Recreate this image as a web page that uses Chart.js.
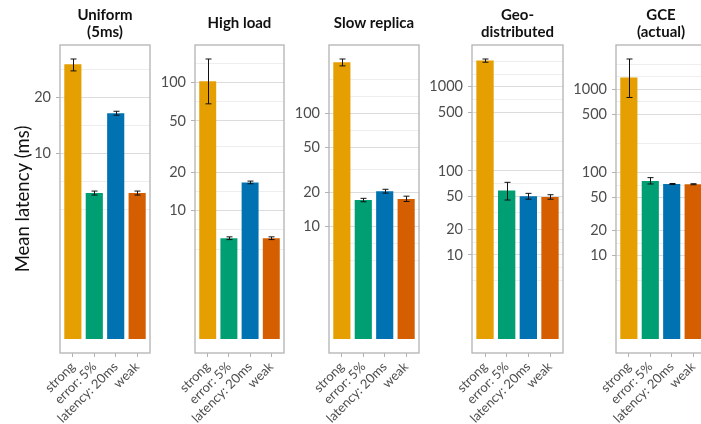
<!DOCTYPE html>
<html>
<head>
<meta charset="utf-8">
<script src="https://cdn.jsdelivr.net/npm/chart.js@4.4.1/dist/chart.umd.min.js"></script>
<style>
  html, body { margin: 0; padding: 0; background: #fff; overflow: hidden; }
  #wrap { position: relative; width: 701px; height: 424px; overflow: hidden; }
  #wrap canvas { position: absolute; top: 0; }
</style>
</head>
<body>
<div id="wrap"></div>
<script>
// data (mean latency in ms, with error bar ends)
const categories = ['strong', 'error: 5%', 'latency: 20ms', 'weak'];
const barColors = ['#E69F00', '#009E73', '#0072B2', '#D55E00'];
const yBreaks = [10, 20, 50, 100, 500, 1000];
const barBase = 1;

const uniformMean = [30.1, 6.1, 16.4, 6.1];
const uniformLow  = [27.7, 5.95, 16.0, 5.95];
const uniformHigh = [32.1, 6.25, 16.8, 6.25];

const highLoadMean = [102, 6.1, 16.6, 6.1];
const highLoadLow  = [68, 5.95, 16.2, 5.95];
const highLoadHigh = [152, 6.25, 17.0, 6.25];

const slowReplicaMean = [285, 17.1, 20.5, 17.5];
const slowReplicaLow  = [265, 16.5, 19.7, 16.6];
const slowReplicaHigh = [305, 17.7, 21.3, 18.5];

const geoMean = [2050, 58.5, 50, 49];
const geoLow  = [1960, 45, 46, 46];
const geoHigh = [2140, 73, 54, 52];

const gceMean = [1390, 79.5, 73, 72.5];
const gceLow  = [800, 73, 72, 71.5];
const gceHigh = [2320, 87, 74, 73.5];

const panels = [
    { title: ['Uniform', '(5ms)'], mean: uniformMean, low: uniformLow, high: uniformHigh },
    { title: ['High load'], mean: highLoadMean, low: highLoadLow, high: highLoadHigh },
    { title: ['Slow replica'], mean: slowReplicaMean, low: slowReplicaLow, high: slowReplicaHigh },
    { title: ['Geo-', 'distributed'], mean: geoMean, low: geoLow, high: geoHigh },
    { title: ['GCE', '(actual)'], mean: gceMean, low: gceLow, high: gceHigh }
];

// panel boxes in page pixels (left/right of the plotting area, y-axis room on the left)
const panelBoxes = [
    { x0: 60,  x1: 150, axisW: 60 },
    { x0: 195, x1: 284, axisW: 42 },
    { x0: 329, x1: 419, axisW: 42 },
    { x0: 472, x1: 563, axisW: 50 },
    { x0: 616, x1: 706, axisW: 50 }
];
const PAGE_H = 424, AREA_BOTTOM = 353;

const wrap = document.getElementById('wrap');

// ggplot-like minor breaks: midpoints (in log space) between majors, extended one step either side
function buildTicks(lo, hi) {
    const majorVals = yBreaks.filter(v => Math.log10(v) >= lo && Math.log10(v) <= hi);
    const majors = majorVals.map(v => Math.log10(v));
    const b = majors.slice();
    const bd = b[1] - b[0];
    if (lo < b[0]) b.unshift(b[0] - bd);
    if (hi > b[b.length - 1]) b.push(b[b.length - 1] + bd);
    const minors = [];
    for (let i = 0; i < b.length - 1; i++) minors.push(b[i], (b[i] + b[i + 1]) / 2);
    minors.push(b[b.length - 1]);
    const ticks = majorVals.map(v => ({ value: v, minor: false }));
    minors.forEach(v => {
        if (v < lo || v > hi) return;
        if (majors.some(m => Math.abs(m - v) < 1e-9)) return;
        ticks.push({ value: Math.pow(10, v), minor: true });
    });
    return ticks.sort((a, c) => a.value - c.value);
}

function errorBarPlugin(low, high) {
    return {
        id: 'errorBars',
        afterDatasetsDraw(chart) {
            const { ctx } = chart;
            const y = chart.scales.y;
            const meta = chart.getDatasetMeta(0);
            ctx.save();
            ctx.strokeStyle = '#111';
            ctx.lineWidth = 1;
            meta.data.forEach((bar, i) => {
                const t = y.getPixelForValue(high[i]);
                const b = y.getPixelForValue(low[i]);
                const x = Math.round(bar.x) + 0.5;
                ctx.beginPath();
                ctx.moveTo(x, t); ctx.lineTo(x, b);
                ctx.moveTo(x - 3, t); ctx.lineTo(x + 3, t);
                ctx.moveTo(x - 3, b); ctx.lineTo(x + 3, b);
                ctx.stroke();
            });
            ctx.restore();
        }
    };
}

const panelBorder = {
    id: 'panelBorder',
    afterDraw(chart) {
        const { ctx, chartArea: a } = chart;
        ctx.save();
        ctx.strokeStyle = '#b3b3b3';
        ctx.lineWidth = 1.3;
        ctx.strokeRect(a.left, a.top, a.right - a.left, a.bottom - a.top);
        ctx.restore();
    }
};

panels.forEach((p, idx) => {
    const box = panelBoxes[idx];
    const left = box.x0 - box.axisW;
    const width = box.x1 - left + 4;
    const canvas = document.createElement('canvas');
    canvas.width = width;
    canvas.height = PAGE_H;
    canvas.style.left = left + 'px';
    wrap.appendChild(canvas);

    // 5% expansion either side of [log10(1), log10(max error bar)]
    const L = Math.log10(Math.max(...p.high));
    const lo = -0.05 * L, hi = 1.05 * L;
    const ticks = buildTicks(lo, hi);
    const twoLines = p.title.length > 1;

    new Chart(canvas, {
        type: 'bar',
        data: {
            datasets: [{
                data: p.mean.map((v, i) => ({ x: i, y: [barBase, v] })),
                backgroundColor: barColors,
                borderWidth: 0,
                categoryPercentage: 1,
                barPercentage: 0.8
            }]
        },
        options: {
            responsive: false,
            animation: false,
            devicePixelRatio: 1,
            layout: { padding: { left: 0, right: 4, top: 0, bottom: 0 } },
            plugins: {
                legend: { display: false },
                tooltip: { enabled: false },
                title: {
                    display: true,
                    fullSize: false,
                    text: p.title,
                    color: '#111',
                    font: { family: 'Lato', size: 15, weight: 'bold', lineHeight: 1.15 },
                    padding: twoLines ? { top: 6.5, bottom: 4 } : { top: 14.7, bottom: 13.05 }
                }
            },
            scales: {
                x: {
                    type: 'linear',
                    offset: false,
                    min: -0.6,
                    max: 3.6,
                    afterBuildTicks: s => { s.ticks = categories.map((c, i) => ({ value: i })); },
                    afterFit: s => { s.height = PAGE_H - AREA_BOTTOM; },
                    border: { display: false },
                    grid: {
                        offset: false,
                        drawOnChartArea: false,
                        drawTicks: true,
                        tickLength: 4,
                        tickColor: '#b3b3b3',
                        tickWidth: 1
                    },
                    ticks: {
                        autoSkip: false,
                        minRotation: 45,
                        maxRotation: 45,
                        padding: 2,
                        color: '#4d4d4d',
                        font: { family: 'Lato', size: 13 },
                        callback: v => categories[v]
                    }
                },
                y: {
                    type: 'logarithmic',
                    min: Math.pow(10, lo),
                    max: Math.pow(10, hi),
                    afterBuildTicks: s => { s.ticks = ticks.map(t => ({ value: t.value, minor: t.minor })); },
                    afterFit: s => { s.width = box.axisW; },
                    border: { display: false },
                    grid: {
                        color: c => (c.tick && c.tick.minor) ? '#eeeeee' : '#dcdcdc',
                        lineWidth: 1,
                        tickLength: 4,
                        tickColor: c => (c.tick && c.tick.minor) ? 'rgba(0,0,0,0)' : '#b3b3b3',
                        tickWidth: 1
                    },
                    ticks: {
                        autoSkip: false,
                        padding: 5,
                        color: '#4d4d4d',
                        font: { family: 'Lato', size: 14.5 },
                        callback: (v, i, ts) => ts[i].minor ? '' : String(v)
                    },
                    title: {
                        display: idx === 0,
                        text: 'Mean latency (ms)',
                        color: '#111',
                        font: { family: 'Lato', size: 18.5 },
                        padding: { top: 12, bottom: 0 }
                    }
                }
            }
        },
        plugins: [errorBarPlugin(p.low, p.high), panelBorder]
    });
});
</script>
</body>
</html>
